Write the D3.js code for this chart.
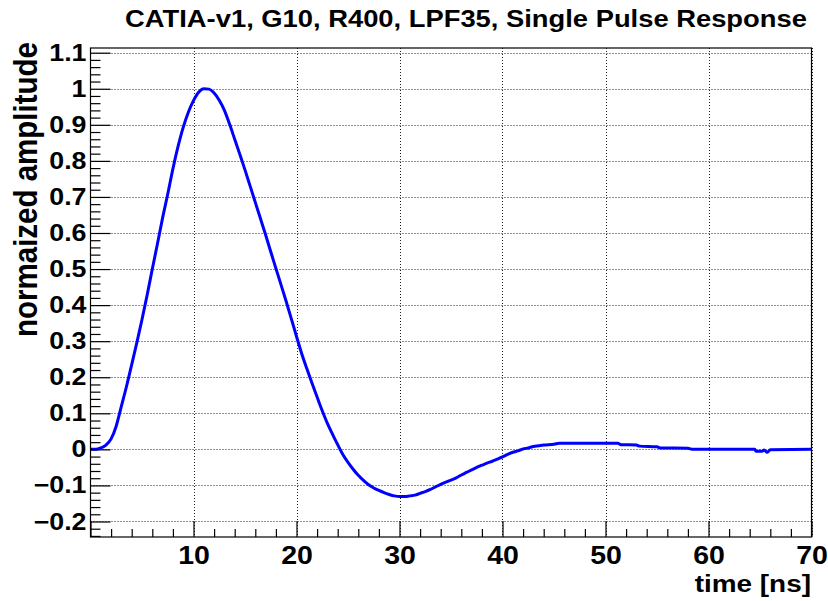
<!DOCTYPE html>
<html>
<head>
<meta charset="utf-8">
<script src="https://cdn.jsdelivr.net/npm/d3@7"></script>
<style>
  html, body { margin: 0; padding: 0; background: #fff; }
  svg { display: block; }
  text { font-family: "Liberation Sans", Arial, Helvetica, sans-serif; font-weight: bold; fill: #000; }
</style>
</head>
<body>
<svg id="chart" width="828" height="601"></svg>
<script>
// ---- data ----
const timeNs = [0, 0.5, 1.0, 1.5, 2.0, 2.5, 3.0, 3.5, 4.0, 4.5, 5.0, 5.5, 6.0, 6.5, 7.0, 7.5, 8.0, 8.5, 9.0, 9.5,
  10.0, 10.5, 11.0, 11.5, 12.0, 12.5, 13.0, 13.5, 14.0, 14.5, 15.0, 15.5, 16.0, 16.5, 17.0, 17.5, 18.0, 18.5, 19.0, 19.5,
  20.0, 20.5, 21.0, 21.5, 22.0, 22.5, 23.0, 23.5, 24.0, 24.5, 25.0, 25.5, 26.0, 26.5, 27.0, 27.5, 28.0, 28.5, 29.0, 29.5,
  30.0, 30.5, 31.0, 31.5, 32.0, 32.5, 33.0, 33.5, 34.0, 34.5, 35.0, 35.5, 36.0, 36.5, 37.0, 37.5, 38.0, 38.5, 39.0, 39.5,
  40.0, 40.5, 41.0, 41.5, 42.0, 42.5, 43.0, 43.5, 44.0, 45.0, 45.5, 51.2, 51.5, 53.0, 53.3, 55.0, 55.3, 58.0, 58.5,
  64.5, 64.6, 65.2, 65.4, 65.7, 66.0, 70.0];
const amplitude = [0, 0, 0.004, 0.012, 0.029, 0.065, 0.12, 0.175, 0.235, 0.296, 0.36, 0.428, 0.5, 0.57, 0.642, 0.708, 0.778, 0.84, 0.893, 0.935,
  0.967, 0.99, 1.0, 0.999, 0.988, 0.968, 0.94, 0.902, 0.86, 0.818, 0.775, 0.73, 0.685, 0.64, 0.595, 0.548, 0.502, 0.456, 0.41, 0.362,
  0.313, 0.266, 0.224, 0.184, 0.145, 0.107, 0.072, 0.042, 0.013, -0.014, -0.036, -0.055, -0.072, -0.086, -0.098, -0.107, -0.114, -0.12, -0.125, -0.129,
  -0.131, -0.131, -0.129, -0.127, -0.122, -0.117, -0.111, -0.104, -0.097, -0.091, -0.085, -0.079, -0.071, -0.064, -0.057, -0.05, -0.044, -0.038, -0.033, -0.027,
  -0.021, -0.014, -0.008, -0.004, 0.001, 0.004, 0.008, 0.010, 0.012, 0.014, 0.017, 0.017, 0.013, 0.012, 0.009, 0.007, 0.004, 0.003, 0.0,
  0.0, -0.005, -0.005, -0.002, -0.008, -0.001, 0.0];

const xMajorTicks = [0, 10, 20, 30, 40, 50, 60, 70];
const xTickLabels = ["", "10", "20", "30", "40", "50", "60", "70"];
const yMajorTicks = [-0.2, -0.1, 0, 0.1, 0.2, 0.3, 0.4, 0.5, 0.6, 0.7, 0.8, 0.9, 1.0, 1.1];
const yTickLabels = ["\u22120.2", "\u22120.1", "0", "0.1", "0.2", "0.3", "0.4", "0.5", "0.6", "0.7", "0.8", "0.9", "1", "1.1"];
const xDomain = [0, 70];
const yDomain = [-0.243, 1.113];
const titleText = "CATIA-v1, G10, R400, LPF35, Single Pulse Response";
const xTitle = "time [ns]";
const yTitle = "normaized amplitude";

// ---- layout ----
const L = 90.5, R = 811.5, T = 48, B = 537;
const SX = 1.14; // horizontal glyph stretch seen in the reference

const svg = d3.select("#chart");
const x = d3.scaleLinear().domain(xDomain).range([L, R]);
const y = d3.scaleLinear().domain(yDomain).range([B, T]);

// minor ticks
const xMinor = d3.range(0, 70.001, 2).filter(v => v % 10 !== 0);
const yMinor = d3.range(-24, 112, 2).map(v => +(v / 100).toFixed(2))
  .filter(v => Math.abs(Math.round(v * 10) - v * 10) > 1e-6);

// grid
const grid = svg.append("g").attr("stroke", "#222").attr("stroke-width", 1).attr("stroke-dasharray", "1,2").attr("fill", "none");
grid.selectAll("line.gx").data(xMajorTicks.slice(1)).join("line")
  .attr("x1", d => Math.round(x(d)) + 0.5).attr("x2", d => Math.round(x(d)) + 0.5)
  .attr("y1", T).attr("y2", B);
grid.selectAll("line.gy").data(yMajorTicks).join("line")
  .attr("x1", L).attr("x2", R)
  .attr("y1", d => Math.round(y(d)) + 0.5).attr("y2", d => Math.round(y(d)) + 0.5);

// curve
const line = d3.line().x((d, i) => x(timeNs[i])).y(d => y(d)).curve(d3.curveMonotoneX);
svg.append("path").datum(amplitude)
  .attr("d", line)
  .attr("fill", "none").attr("stroke", "#0000ff").attr("stroke-width", 3)
  .attr("stroke-linejoin", "round");

// axes
const yAxis = d3.axisLeft(y).tickValues(yMajorTicks)
  .tickFormat((d, i) => yTickLabels[i]).tickSizeInner(-20).tickSizeOuter(0).tickPadding(3.5);
const yAxisMinor = d3.axisLeft(y).tickValues(yMinor).tickFormat("").tickSizeInner(-10).tickSizeOuter(0);
const xAxis = d3.axisBottom(x).tickValues(xMajorTicks)
  .tickFormat((d, i) => xTickLabels[i]).tickSizeInner(-16).tickSizeOuter(0).tickPadding(9);
const xAxisMinor = d3.axisBottom(x).tickValues(xMinor).tickFormat("").tickSizeInner(-8).tickSizeOuter(0);

const gyMinor = svg.append("g").attr("transform", `translate(${L},0)`).call(yAxisMinor);
const gy = svg.append("g").attr("transform", `translate(${L},0)`).call(yAxis);
const gxMinor = svg.append("g").attr("transform", `translate(0,${B})`).call(xAxisMinor);
const gx = svg.append("g").attr("transform", `translate(0,${B})`).call(xAxis);

[gy, gyMinor, gx, gxMinor].forEach(g => {
  g.selectAll(".domain").remove();
  g.selectAll(".tick line").attr("stroke", "#000").attr("stroke-width", 1.2);
});
gy.selectAll("text").attr("font-size", 23.5).attr("transform", `scale(${SX},1)`)
  .style("font-family", '"Liberation Sans", Arial, sans-serif').style("font-weight", "bold").attr("fill", "#000");
gx.selectAll("text").attr("font-size", 25).attr("transform", `scale(${SX},1)`)
  .style("font-family", '"Liberation Sans", Arial, sans-serif').style("font-weight", "bold").attr("fill", "#000");

// frame
svg.append("rect").attr("x", L).attr("y", T).attr("width", R - L).attr("height", B - T)
  .attr("fill", "none").attr("stroke", "#000").attr("stroke-width", 1.2);

// titles
svg.append("text").attr("transform", `translate(466,27) scale(${SX},1)`)
  .attr("text-anchor", "middle").attr("font-size", 24).text(titleText);
svg.append("text").attr("transform", `translate(811,592) scale(${SX},1)`)
  .attr("text-anchor", "end").attr("font-size", 24.5).text(xTitle);
svg.append("text").attr("transform", `translate(37,42) scale(${SX},1) rotate(-90)`)
  .attr("text-anchor", "end").attr("font-size", 29.5).text(yTitle);
</script>
</body>
</html>
